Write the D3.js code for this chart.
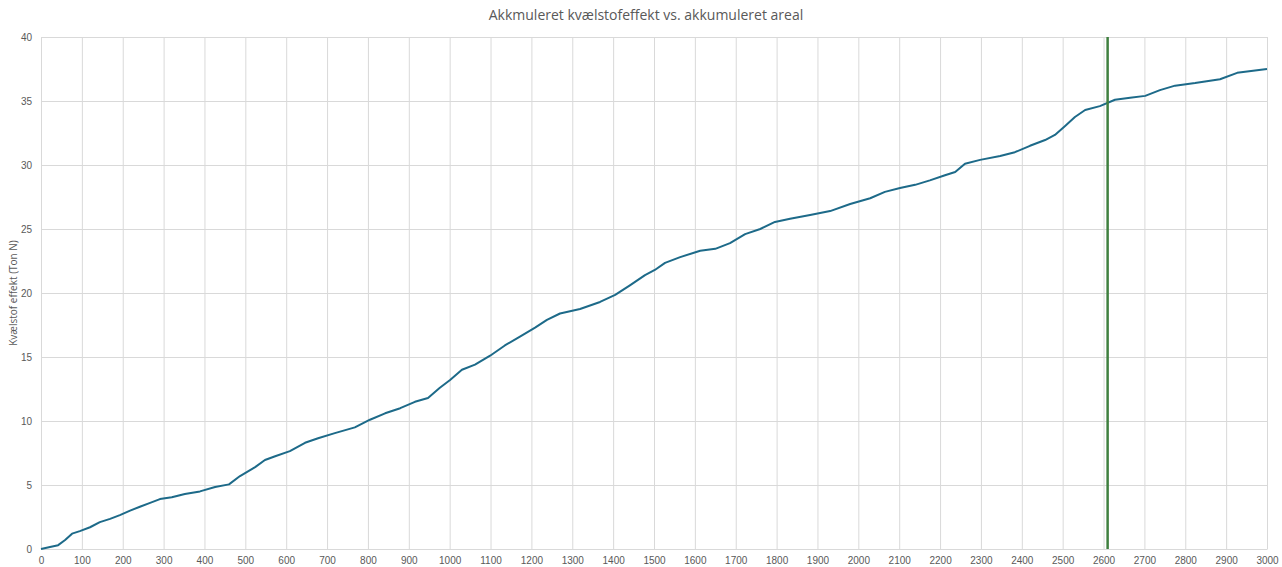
<!DOCTYPE html>
<html>
<head>
<meta charset="utf-8">
<script src="https://cdn.jsdelivr.net/npm/d3@7"></script>
<style>
  body { margin: 0; background: #fff; }
  svg { display: block; font-family: "Open Sans", "Liberation Sans", sans-serif; }
</style>
</head>
<body>
<svg id="chart" width="1282" height="567"></svg>
<script>

// akkumuleret areal (x) og akkumuleret kvælstofeffekt (y, Ton N)
const areal = [0, 22, 42, 59, 76, 95, 120, 144, 169, 193, 218, 242, 267, 291, 320, 352, 389, 426, 460,
    487, 524, 548, 573, 609, 646, 678, 719, 768, 805, 842, 879, 915, 947, 976, 1001, 1030, 1062,
    1099, 1135, 1172, 1209, 1238, 1270, 1319, 1368, 1405, 1441, 1478, 1502, 1527, 1564, 1613, 1650,
    1686, 1723, 1760, 1796, 1833, 1882, 1931, 1980, 2029, 2065, 2102, 2139, 2175, 2212, 2237, 2261,
    2298, 2347, 2383, 2420, 2457, 2481, 2506, 2530, 2555, 2591, 2628, 2665, 2702, 2738, 2775, 2824,
    2885, 2927, 3000]
const effekt = [0, 0.15, 0.3, 0.7, 1.2, 1.4, 1.7, 2.1, 2.35, 2.65, 3.0, 3.3, 3.6, 3.9, 4.05, 4.3, 4.5, 4.85, 5.05,
    5.7, 6.4, 6.95, 7.25, 7.65, 8.3, 8.65, 9.05, 9.5, 10.1, 10.6, 11.0, 11.5, 11.8, 12.6, 13.2, 14.0, 14.4,
    15.1, 15.9, 16.6, 17.3, 17.9, 18.4, 18.75, 19.3, 19.85, 20.6, 21.4, 21.8, 22.35, 22.8, 23.3, 23.45,
    23.9, 24.6, 25.0, 25.55, 25.8, 26.1, 26.4, 26.95, 27.4, 27.9, 28.2, 28.45, 28.8, 29.2, 29.45, 30.1,
    30.4, 30.7, 31.0, 31.5, 31.95, 32.35, 33.05, 33.75, 34.3, 34.6, 35.1, 35.25, 35.4, 35.85, 36.2, 36.4,
    36.7, 37.2, 37.5]

const xTicks = d3.range(0, 3001, 100)
const yTicks = [0, 5, 10, 15, 20, 25, 30, 35, 40]
const markerX = 2610

const title = 'Akkmuleret kvælstofeffekt vs. akkumuleret areal'
const yLabel = 'Kvælstof effekt (Ton N)'

const svg = d3.select('#chart')
const width = 1282
const height = 567
const margin = { top: 37, right: 15, bottom: 18, left: 41 }

const x = d3.scaleLinear().domain([0, 3000]).range([margin.left, width - margin.right])
const y = d3.scaleLinear().domain([0, 40]).range([height - margin.bottom, margin.top])

const gridColor = '#d9d9d9'
const textColor = '#595959'

// gitterlinjer
svg.append('g')
    .attr('transform', `translate(0,${margin.top})`)
    .call(d3.axisBottom(x).tickValues(xTicks).tickSize(height - margin.top - margin.bottom).tickFormat(''))
    .call(g => g.select('.domain').remove())
    .call(g => g.selectAll('.tick line').attr('stroke', gridColor))

svg.append('g')
    .attr('transform', `translate(${margin.left},0)`)
    .call(d3.axisRight(y).tickValues(yTicks).tickSize(width - margin.left - margin.right).tickFormat(''))
    .call(g => g.select('.domain').remove())
    .call(g => g.selectAll('.tick line').attr('stroke', gridColor))

// akser
svg.append('g')
    .attr('transform', `translate(0,${height - margin.bottom})`)
    .call(d3.axisBottom(x).tickValues(xTicks).tickSize(0).tickPadding(8).tickFormat(d3.format('d')))
    .call(g => g.select('.domain').attr('stroke', gridColor))
    .call(g => g.selectAll('.tick text').attr('fill', textColor).attr('font-size', 10))

svg.append('g')
    .attr('transform', `translate(${margin.left},0)`)
    .call(d3.axisLeft(y).tickValues(yTicks).tickSize(0).tickPadding(9))
    .call(g => g.select('.domain').remove())
    .call(g => g.selectAll('.tick text').attr('fill', textColor).attr('font-size', 10))

// kurve
const points = areal.map((a, i) => ({ a: a, e: effekt[i] }))
const line = d3.line().x(d => x(d.a)).y(d => y(d.e))

svg.append('path')
    .datum(points)
    .attr('fill', 'none')
    .attr('stroke', '#1d6a89')
    .attr('stroke-width', 2)
    .attr('stroke-linejoin', 'round')
    .attr('d', line)

// lodret markering
svg.append('line')
    .attr('x1', x(markerX)).attr('x2', x(markerX))
    .attr('y1', y(40)).attr('y2', y(0))
    .attr('stroke', '#3f7f3f')
    .attr('stroke-width', 2.5)

// tekster
svg.append('text')
    .attr('x', 646).attr('y', 20)
    .attr('text-anchor', 'middle')
    .attr('fill', textColor)
    .attr('font-size', 14)
    .text(title)

svg.append('text')
    .attr('transform', `translate(17,${(y(0) + y(40)) / 2}) rotate(-90)`)
    .attr('text-anchor', 'middle')
    .attr('fill', textColor)
    .attr('font-size', 10)
    .text(yLabel)

</script>
</body>
</html>
